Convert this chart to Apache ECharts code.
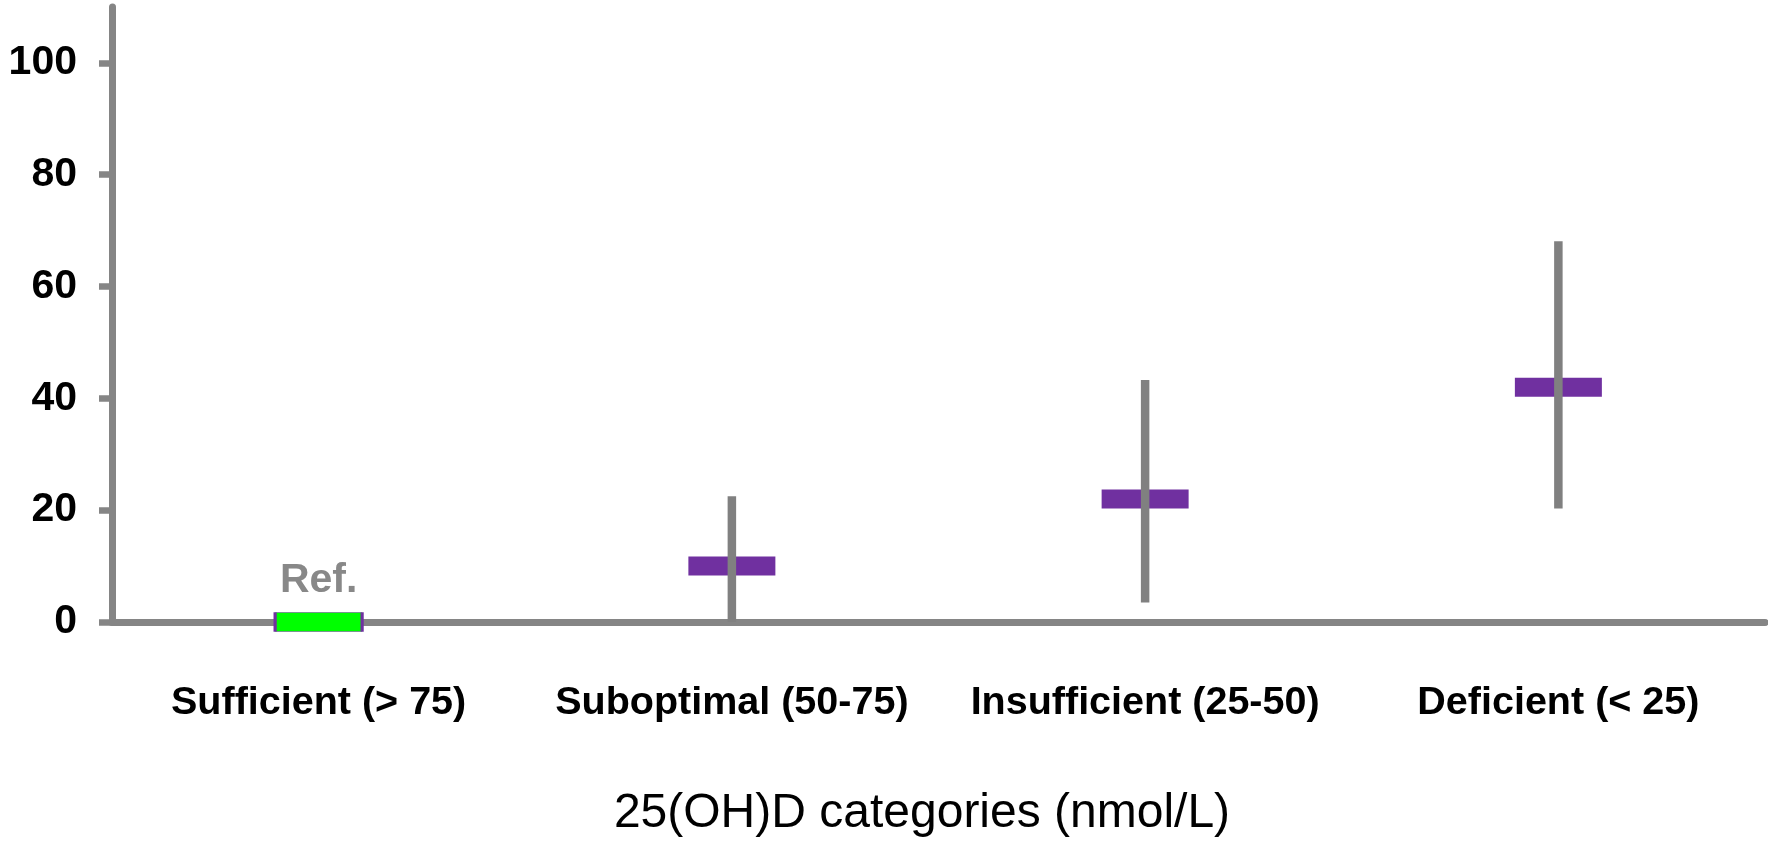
<!DOCTYPE html>
<html>
<head>
<meta charset="utf-8">
<script src="https://cdn.jsdelivr.net/npm/echarts@6/dist/echarts.min.js"></script>
<style>
  html, body { margin: 0; padding: 0; background: #fff; }
  #chart { width: 1768px; height: 843px; }
</style>
</head>
<body>
<div id="chart"></div>
<script>
// 25(OH)D categories and their estimates with 95% CI
const categories = ["Sufficient (> 75)", "Suboptimal (50-75)", "Insufficient (25-50)", "Deficient (< 25)"];
const estimates = [0, 10, 22, 42];
const lower = [null, 0, 3.5, 20.3];
const upper = [null, 22.5, 43.3, 68.1];
const pointLabels = ["Ref.", "", "", ""];
const yTicks = [0, 20, 40, 60, 80, 100];

const gray = "#858585";
const purple = "#7030a0";
const font = "Liberation Sans, Arial, sans-serif";

const points = estimates.map((v, i) => {
  const item = { value: [i, v] };
  if (i === 0) {
    item.itemStyle = { color: "#00ff00", borderColor: purple, borderWidth: 1.5, opacity: 1 };
    item.label = {
      show: true, position: "top", distance: 11,
      formatter: pointLabels[i],
      color: "#888888", fontSize: 41, fontWeight: "bold",
      fontFamily: font
    };
  }
  return item;
});

const bars = [];
lower.forEach((lo, i) => {
  if (lo !== null) bars.push([i, lo, upper[i]]);
});

const option = {
  animation: false,
  grid: { left: 112, right: 3, top: 7, bottom: 220 },
  xAxis: {
    type: "category",
    data: categories,
    name: "25(OH)D categories (nmol/L)",
    nameLocation: "middle",
    nameGap: 168,
    nameTextStyle: {
      color: "#000", fontSize: 48, fontFamily: font,
      padding: [0, 33, 0, 0]
    },
    axisLine: { lineStyle: { color: gray, width: 7 } },
    axisTick: { length: 13, lineStyle: { color: gray, width: 6.5 } },
    axisLabel: {
      interval: 0, margin: 61, color: "#000", fontSize: 39.5, fontWeight: "bold",
      fontFamily: font
    }
  },
  yAxis: {
    type: "value",
    min: 0,
    max: 110,
    interval: 20,
    splitLine: { show: false },
    axisLine: { show: true, lineStyle: { color: gray, width: 7 } },
    axisTick: { show: true, length: 13, customValues: yTicks, lineStyle: { color: gray, width: 6.5 } },
    axisLabel: {
      customValues: yTicks, margin: 35, color: "#000", fontSize: 41, fontWeight: "bold",
      fontFamily: font
    }
  },
  series: [
    {
      type: "scatter",
      symbol: "rect",
      symbolSize: [87, 19],
      itemStyle: { color: purple, opacity: 1 },
      emphasis: { disabled: true },
      data: points,
      z: 2
    },
    {
      type: "custom",
      z: 3,
      encode: { x: 0, y: [1, 2] },
      data: bars,
      renderItem: (params, api) => {
        const x = api.value(0);
        const p1 = api.coord([x, api.value(1)]);
        const p2 = api.coord([x, api.value(2)]);
        return {
          type: "line",
          shape: { x1: p1[0], y1: p1[1], x2: p2[0], y2: p2[1] },
          style: { stroke: "#808080", lineWidth: 8.5 }
        };
      }
    }
  ]
};

const chart = echarts.init(document.getElementById("chart"));
chart.setOption(option);
</script>
</body>
</html>
